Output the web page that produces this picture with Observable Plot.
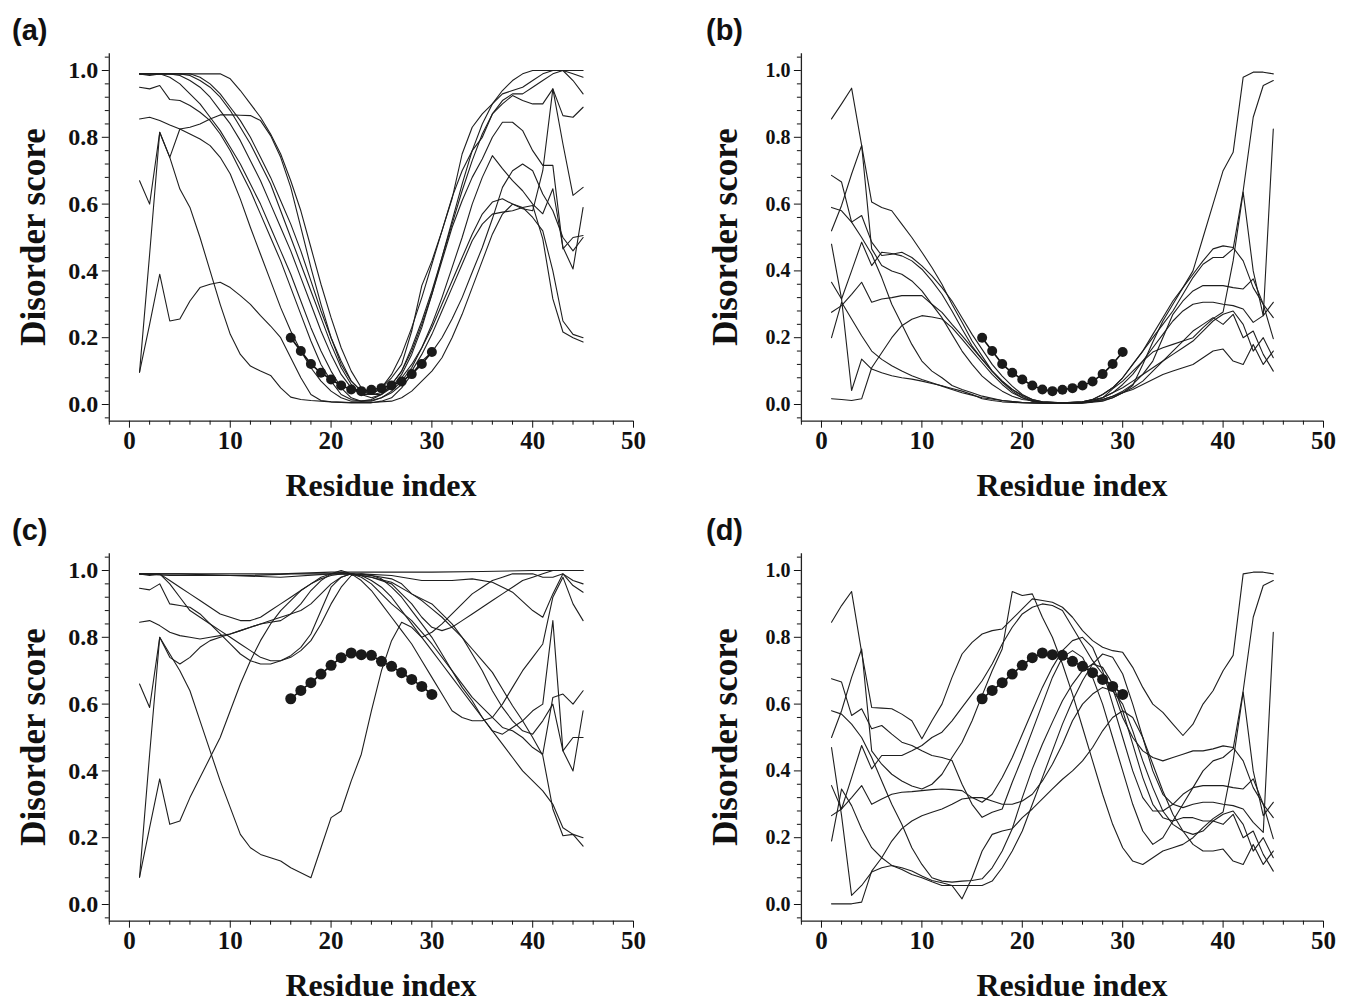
<!DOCTYPE html>
<html><head><meta charset="utf-8">
<script src="https://cdn.jsdelivr.net/npm/d3@7/dist/d3.min.js"></script>
<script src="https://cdn.jsdelivr.net/npm/@observablehq/plot@0.6/dist/plot.umd.min.js"></script>
<style>
body{margin:0;background:#fff;}
#fig{position:relative;width:1355px;height:1003px;overflow:hidden;background:#fff;}
.plabel{position:absolute;font-family:"Liberation Sans",Arial,sans-serif;font-weight:bold;font-size:29px;line-height:1;color:#111;}
.ytitle{position:absolute;font-family:"Liberation Serif","Times New Roman",serif;font-weight:bold;font-size:35px;color:#111;white-space:nowrap;transform:translate(-50%,-50%) rotate(-90deg);line-height:1;}
.xtitle{position:absolute;font-family:"Liberation Serif","Times New Roman",serif;font-weight:bold;font-size:32px;color:#111;white-space:nowrap;transform:translate(-50%,-50%);line-height:1;}
.chart{position:absolute;}
</style></head><body><div id="fig"></div><script>
// ---------------- data ----------------
const insertX = [16,17,18,19,20,21,22,23,24,25,26,27,28,29,30];
const insertOrdered = [.2,.16,.121,.095,.075,.057,.045,.04,.044,.049,.057,.069,.091,.121,.157];
const insertDisordered = [.616,.641,.664,.69,.716,.739,.753,.748,.746,.728,.713,.694,.674,.653,.629];

const xTicks = [0,10,20,30,40,50];
const yTicks = [0,0.2,0.4,0.6,0.8,1.0];

// panel (a)
const a1=[[1,.99],[9,.99],[10,.975],[11,.94],[12,.9],[13,.86],[14,.81],[15,.75],[16,.67],[17,.58],[18,.47],[19,.36],[20,.26],[21,.17],[22,.1],[23,.05],[24,.03],[25,.03],[26,.05],[27,.09],[28,.15],[29,.23],[30,.33],[31,.44],[32,.55],[33,.66],[34,.76],[35,.84],[36,.9],[37,.94],[38,.97],[39,.99],[40,1],[45,1]];
const a2=[[1,.99],[6,.99],[7,.98],[8,.96],[9,.93],[10,.89],[11,.85],[12,.8],[13,.74],[14,.68],[15,.61],[16,.54],[17,.46],[18,.37],[19,.28],[20,.2],[21,.13],[22,.07],[23,.04],[24,.03],[25,.05],[26,.08],[27,.12],[28,.22],[29,.356],[30,.43],[31,.52],[32,.616],[33,.75],[34,.83],[35,.87],[36,.9],[37,.93],[38,.94],[39,.95],[40,.97],[41,.99],[42,1],[43,1],[44,.99],[45,.98]];
const a3=[[1,.99],[4,.99],[5,.985],[6,.97],[7,.95],[8,.92],[9,.88],[10,.84],[11,.79],[12,.73],[13,.67],[14,.6],[15,.53],[16,.46],[17,.38],[18,.3],[19,.22],[20,.15],[21,.09],[22,.05],[23,.03],[24,.03],[25,.05],[26,.09],[27,.15],[28,.23],[29,.32],[30,.42],[31,.52],[32,.62],[33,.7],[34,.76],[35,.8],[36,.87],[37,.9],[38,.925],[39,.91],[40,.9],[41,.9],[42,.945],[43,.865],[44,.86],[45,.89]];
const a4=[[1,.99],[2,.985],[3,.99],[4,.98],[5,.96],[6,.93],[7,.9],[8,.86],[9,.82],[10,.77],[11,.72],[12,.66],[13,.6],[14,.53],[15,.46],[16,.39],[17,.31],[18,.23],[19,.16],[20,.1],[21,.05],[22,.02],[23,.01],[24,.015],[25,.03],[26,.06],[27,.1],[28,.16],[29,.24],[30,.33],[31,.43],[32,.53],[33,.61],[34,.68],[35,.735],[36,.8],[37,.845],[38,.845],[39,.82],[40,.76],[41,.716],[42,.716],[43,.466],[44,.5],[45,.506]];
const a5=[[1,.95],[2,.945],[3,.955],[4,.913],[5,.91],[6,.895],[7,.875],[8,.85],[9,.81],[10,.76],[11,.7],[12,.64],[13,.57],[14,.5],[15,.43],[16,.35],[17,.27],[18,.19],[19,.12],[20,.07],[21,.03],[22,.015],[23,.01],[24,.01],[25,.02],[26,.04],[27,.07],[28,.11],[29,.17],[30,.24],[31,.32],[32,.41],[33,.5],[34,.6],[35,.68],[36,.745],[37,.706],[38,.67],[39,.64],[40,.6],[41,.571],[42,.646],[43,.471],[44,.406],[45,.59]];
const a6=[[1,.67],[2,.6],[3,.815],[4,.74],[5,.825],[6,.83],[7,.84],[8,.855],[9,.867],[10,.867],[11,.866],[12,.865],[13,.85],[14,.805],[15,.74],[16,.65],[17,.53],[18,.41],[19,.3],[20,.2],[21,.12],[22,.07],[23,.04],[24,.03],[25,.035],[26,.05],[27,.08],[28,.12],[29,.17],[30,.23],[31,.3],[32,.37],[33,.44],[34,.51],[35,.57],[36,.606],[37,.616],[38,.6],[39,.586],[40,.58],[41,.7],[42,.945],[43,.78],[44,.626],[45,.65]];
const a7=[[1,.855],[2,.86],[3,.85],[4,.837],[5,.825],[6,.81],[7,.795],[8,.775],[9,.74],[10,.69],[11,.615],[12,.53],[13,.45],[14,.37],[15,.29],[16,.22],[17,.16],[18,.11],[19,.07],[20,.04],[21,.02],[22,.01],[23,.01],[24,.012],[25,.02],[26,.035],[27,.06],[28,.1],[29,.15],[30,.21],[31,.28],[32,.35],[33,.42],[34,.49],[35,.54],[36,.57],[37,.576],[38,.58],[39,.59],[40,.596],[41,.496],[42,.316],[43,.217],[44,.2],[45,.187]];
const a8=[[1,.097],[2,.45],[3,.815],[4,.74],[5,.645],[6,.59],[7,.5],[8,.4],[9,.3],[10,.21],[11,.15],[12,.115],[13,.1],[14,.087],[15,.05],[16,.022],[17,.015],[18,.012],[20,.008],[22,.006],[24,.006],[26,.01],[27,.02],[28,.04],[29,.07],[30,.1],[31,.14],[32,.2],[33,.27],[34,.35],[35,.43],[36,.51],[37,.57],[38,.6],[39,.59],[40,.56],[41,.52],[42,.4],[43,.25],[44,.21],[45,.2]];
const a9=[[1,.097],[2,.24],[3,.39],[4,.25],[5,.256],[6,.31],[7,.35],[8,.36],[9,.366],[10,.35],[11,.326],[12,.3],[13,.266],[14,.235],[15,.2],[16,.14],[17,.08],[18,.03],[19,.012],[20,.008],[22,.005],[24,.005],[25,.01],[26,.02],[27,.05],[28,.09],[29,.13],[30,.157],[31,.2],[32,.256],[33,.32],[34,.396],[35,.47],[36,.556],[37,.65],[38,.7],[39,.72],[40,.7],[41,.63],[42,.58],[43,.5],[44,.46],[45,.5]];
const a10=[[1,.99],[5,.99],[6,.985],[7,.97],[8,.95],[9,.92],[10,.88],[11,.83],[12,.78],[13,.72],[14,.66],[15,.58],[16,.5],[17,.42],[18,.34],[19,.26],[20,.18],[21,.11],[22,.06],[23,.03],[24,.02],[25,.03],[26,.06],[27,.1],[28,.17],[29,.25],[30,.34],[31,.44],[32,.54],[33,.64],[34,.73],[35,.81],[36,.87],[37,.91],[38,.93],[39,.93],[40,.95],[41,.97],[42,.99],[43,1],[44,.97],[45,.93]];

// panel (b)
const b1=[[1,.855],[2,.9],[3,.947],[4,.776],[5,.606],[6,.59],[7,.58],[8,.54],[9,.5],[10,.456],[11,.41],[12,.36],[13,.3],[14,.246],[15,.19],[16,.145],[17,.1],[18,.067],[19,.04],[20,.02],[21,.01],[22,.005],[24,.003],[26,.004],[28,.01],[29,.02],[30,.035],[31,.057],[32,.12],[33,.187],[34,.25],[35,.3],[36,.35],[37,.4],[38,.5],[39,.6],[40,.7],[41,.755],[42,.98],[43,.995],[44,.995],[45,.99]];
const b2=[[1,.686],[2,.666],[3,.546],[4,.566],[5,.486],[6,.446],[7,.45],[8,.456],[9,.44],[10,.415],[11,.385],[12,.35],[13,.31],[14,.26],[15,.21],[16,.165],[17,.12],[18,.085],[19,.055],[20,.03],[21,.015],[22,.008],[24,.005],[26,.008],[27,.015],[28,.03],[29,.05],[30,.08],[31,.12],[32,.16],[33,.2],[34,.24],[35,.28],[36,.33],[37,.38],[38,.42],[39,.44],[40,.44],[41,.466],[42,.64],[43,.86],[44,.955],[45,.97]];
const b3=[[1,.52],[2,.596],[3,.69],[4,.776],[5,.466],[6,.416],[7,.4],[8,.39],[9,.37],[10,.34],[11,.3],[12,.26],[13,.21],[14,.16],[15,.12],[16,.085],[17,.06],[18,.04],[19,.025],[20,.015],[22,.008],[24,.005],[26,.008],[28,.02],[29,.047],[30,.07],[31,.1],[32,.13],[33,.157],[34,.17],[35,.18],[36,.19],[37,.2],[38,.23],[39,.257],[40,.277],[41,.43],[42,.636],[43,.4],[44,.266],[45,.306]];
const b4=[[1,.366],[2,.316],[3,.4],[4,.486],[5,.416],[6,.456],[7,.452],[8,.445],[9,.43],[10,.405],[11,.37],[12,.33],[13,.28],[14,.226],[15,.175],[16,.135],[17,.1],[18,.07],[19,.045],[20,.025],[21,.012],[22,.006],[24,.004],[26,.008],[27,.015],[28,.03],[29,.05],[30,.08],[31,.12],[32,.16],[33,.21],[34,.26],[35,.31],[36,.35],[37,.39],[38,.43],[39,.466],[40,.475],[41,.47],[42,.43],[43,.35],[44,.3],[45,.26]];
const b5=[[1,.276],[2,.296],[3,.33],[4,.366],[5,.306],[6,.316],[7,.32],[8,.326],[9,.326],[10,.326],[11,.3],[12,.276],[13,.24],[14,.206],[15,.17],[16,.135],[17,.1],[18,.07],[19,.045],[20,.028],[21,.015],[22,.008],[24,.004],[26,.006],[28,.015],[29,.025],[30,.04],[31,.06],[32,.09],[33,.13],[34,.2],[35,.27],[36,.31],[37,.34],[38,.356],[39,.356],[40,.356],[41,.35],[42,.346],[43,.376],[44,.3],[45,.197]];
const b6=[[1,.2],[2,.306],[3,.256],[4,.206],[5,.16],[6,.135],[7,.116],[8,.1],[9,.086],[10,.075],[11,.065],[12,.055],[13,.045],[14,.035],[15,.028],[16,.02],[18,.012],[20,.006],[22,.004],[24,.004],[26,.006],[28,.02],[29,.035],[30,.06],[31,.09],[32,.13],[33,.17],[34,.21],[35,.25],[36,.28],[37,.3],[38,.306],[39,.306],[40,.3],[41,.296],[42,.286],[43,.246],[44,.266],[45,.825]];
const b7=[[1,.017],[2,.015],[3,.012],[4,.017],[5,.11],[6,.155],[7,.2],[8,.236],[9,.255],[10,.266],[11,.262],[12,.256],[13,.23],[14,.196],[15,.16],[16,.125],[17,.09],[18,.06],[19,.035],[20,.02],[21,.01],[22,.006],[24,.004],[26,.005],[27,.01],[28,.02],[29,.035],[30,.05],[31,.07],[32,.09],[33,.11],[34,.13],[35,.15],[36,.17],[37,.19],[38,.22],[39,.25],[40,.27],[41,.28],[42,.24],[43,.16],[44,.2],[45,.14]];
const b8=[[1,.48],[2,.316],[3,.042],[4,.136],[5,.106],[6,.095],[7,.086],[8,.08],[9,.076],[10,.07],[11,.063],[12,.056],[13,.048],[14,.04],[15,.03],[16,.017],[17,.012],[18,.008],[20,.005],[22,.004],[24,.004],[26,.005],[27,.008],[28,.015],[29,.025],[30,.035],[31,.045],[32,.06],[33,.075],[34,.09],[35,.1],[36,.11],[37,.12],[38,.14],[39,.16],[40,.166],[41,.13],[42,.12],[43,.18],[44,.12],[45,.16]];
const b9=[[1,.59],[2,.58],[3,.546],[4,.5],[5,.45],[6,.38],[7,.3],[8,.24],[9,.18],[10,.13],[11,.1],[12,.08],[13,.057],[14,.045],[15,.035],[16,.025],[18,.012],[20,.006],[22,.004],[24,.004],[26,.006],[28,.012],[29,.02],[30,.035],[31,.05],[32,.07],[33,.1],[34,.13],[35,.16],[36,.19],[37,.22],[38,.24],[39,.26],[40,.24],[41,.27],[42,.2],[43,.22],[44,.15],[45,.1]];

// panel (c)
const c1=[[1,.99],[5,.99],[10,.99],[15,.99],[20,.995],[25,.995],[30,.995],[35,.997],[40,1],[45,1]];
const c2=[[1,.99],[4,.985],[8,.985],[12,.985],[16,.99],[20,.99],[23,.99],[26,.985],[29,.97],[32,.97],[34,.975],[36,.965],[38,.935],[40,.88],[41,.86],[42,.93],[43,.99],[44,.955],[45,.935]];
const c3=[[1,.99],[3,.99],[4,.97],[5,.95],[6,.93],[7,.91],[8,.89],[9,.87],[10,.86],[11,.85],[12,.85],[13,.86],[14,.88],[15,.9],[16,.92],[17,.94],[18,.96],[19,.975],[20,.985],[21,.99],[22,.99],[24,.985],[26,.975],[27,.96],[28,.93],[29,.91],[30,.885],[31,.86],[32,.83],[33,.8],[34,.765],[35,.73],[36,.695],[37,.645],[38,.595],[39,.55],[40,.5],[41,.446],[42,.286],[43,.206],[44,.21],[45,.175]];
const c4=[[1,.99],[2,.985],[3,.99],[4,.96],[5,.92],[6,.88],[7,.86],[8,.84],[9,.82],[10,.8],[11,.78],[12,.76],[13,.74],[14,.73],[15,.73],[16,.74],[17,.76],[18,.79],[19,.84],[20,.9],[21,.95],[22,.985],[23,.99],[24,.985],[25,.975],[26,.95],[27,.92],[28,.88],[29,.84],[30,.8],[31,.75],[32,.7],[33,.65],[34,.61],[35,.56],[36,.52],[37,.51],[38,.53],[39,.55],[40,.58],[41,.6],[42,.85],[43,.46],[44,.4],[45,.58]];
const c5=[[1,.947],[2,.942],[3,.96],[4,.9],[5,.895],[6,.89],[7,.87],[8,.84],[9,.81],[10,.78],[11,.75],[12,.73],[13,.72],[14,.72],[15,.73],[16,.745],[17,.77],[18,.81],[19,.88],[20,.95],[21,.98],[22,.99],[23,.985],[24,.98],[26,.965],[28,.93],[30,.9],[31,.87],[32,.84],[33,.8],[34,.75],[35,.7],[36,.64],[37,.59],[38,.55],[39,.52],[40,.51],[41,.55],[42,.6],[43,.46],[44,.5],[45,.5]];
const c6=[[1,.845],[2,.85],[3,.835],[4,.815],[5,.805],[6,.8],[7,.795],[8,.8],[9,.805],[10,.81],[11,.82],[12,.83],[13,.84],[14,.85],[15,.86],[16,.87],[17,.88],[18,.9],[19,.93],[20,.96],[21,.98],[22,.99],[23,.985],[24,.97],[25,.95],[26,.92],[27,.88],[28,.84],[29,.8],[30,.76],[31,.72],[32,.68],[33,.64],[34,.6],[35,.56],[36,.52],[37,.48],[38,.44],[39,.4],[40,.37],[41,.34],[42,.3],[43,.23],[44,.21],[45,.2]];
const c7=[[1,.66],[2,.59],[3,.8],[4,.75],[5,.7],[6,.64],[7,.55],[8,.46],[9,.37],[10,.29],[11,.21],[12,.17],[13,.15],[14,.14],[15,.13],[16,.11],[17,.095],[18,.08],[19,.17],[20,.26],[21,.28],[22,.37],[23,.45],[24,.58],[25,.7],[26,.79],[27,.845],[28,.83],[29,.8],[30,.815],[31,.84],[32,.87],[33,.9],[34,.93],[35,.95],[36,.97],[37,.98],[38,.99],[39,.99],[40,.99],[41,.98],[42,.98],[43,.99],[44,.97],[45,.96]];
const c8=[[1,.082],[2,.45],[3,.8],[4,.74],[5,.72],[6,.74],[7,.77],[8,.79],[9,.8],[10,.81],[11,.82],[12,.83],[13,.84],[14,.845],[15,.85],[16,.87],[17,.9],[18,.94],[19,.97],[20,.99],[21,1],[22,.99],[23,.97],[24,.94],[25,.9],[26,.86],[27,.82],[28,.78],[29,.73],[30,.68],[31,.63],[32,.58],[33,.56],[34,.55],[35,.55],[36,.56],[37,.6],[38,.65],[39,.7],[40,.74],[41,.78],[42,.92],[43,.98],[44,.9],[45,.85]];
const c9=[[1,.082],[2,.23],[3,.376],[4,.24],[5,.25],[6,.32],[7,.38],[8,.44],[9,.5],[10,.58],[11,.66],[12,.73],[13,.79],[14,.84],[15,.88],[16,.91],[17,.94],[18,.96],[19,.98],[20,.99],[21,.995],[22,.99],[23,.98],[24,.96],[25,.93],[26,.9],[28,.85],[30,.78],[32,.7],[34,.62],[36,.56],[37,.53],[38,.52],[39,.5],[40,.47],[41,.45],[42,.62],[43,.63],[44,.6],[45,.64]];
const c10=[[1,.99],[5,.99],[10,.985],[15,.98],[20,.99],[22,.99],[24,.98],[26,.96],[28,.9],[29,.86],[30,.83],[31,.82],[32,.83],[33,.85],[34,.87],[35,.89],[36,.91],[37,.93],[38,.95],[39,.97],[40,.98],[41,.99],[42,1],[45,1]];

// panel (d)
const d1=[[1,.845],[2,.895],[3,.937],[4,.755],[5,.59],[6,.588],[7,.586],[8,.57],[9,.55],[10,.496],[11,.55],[12,.6],[13,.68],[14,.75],[15,.785],[16,.81],[17,.82],[18,.825],[19,.855],[20,.885],[21,.915],[22,.91],[23,.905],[24,.89],[25,.86],[26,.82],[27,.79],[28,.77],[29,.76],[30,.755],[31,.71],[32,.65],[33,.6],[34,.575],[35,.54],[36,.506],[37,.54],[38,.6],[39,.64],[40,.7],[41,.746],[42,.99],[43,.995],[44,.995],[45,.99]];
const d2=[[1,.676],[2,.666],[3,.566],[4,.586],[5,.526],[6,.536],[7,.51],[8,.486],[9,.476],[10,.46],[11,.446],[12,.44],[13,.431],[14,.36],[15,.3],[16,.261],[17,.276],[18,.286],[19,.366],[20,.44],[21,.52],[22,.6],[23,.68],[24,.74],[25,.76],[26,.74],[27,.68],[28,.6],[29,.5],[30,.4],[31,.3],[32,.22],[33,.18],[34,.2],[35,.25],[36,.3],[37,.35],[38,.4],[39,.43],[40,.44],[41,.466],[42,.64],[43,.86],[44,.955],[45,.97]];
const d3=[[1,.5],[2,.58],[3,.68],[4,.765],[5,.46],[6,.42],[7,.39],[8,.37],[9,.355],[10,.346],[11,.36],[12,.39],[13,.44],[14,.486],[15,.55],[16,.626],[17,.7],[18,.765],[19,.937],[20,.925],[21,.93],[22,.86],[23,.8],[24,.72],[25,.63],[26,.53],[27,.43],[28,.33],[29,.24],[30,.17],[31,.13],[32,.12],[33,.14],[34,.16],[35,.17],[36,.18],[37,.2],[38,.23],[39,.257],[40,.277],[41,.43],[42,.636],[43,.4],[44,.266],[45,.306]];
const d4=[[1,.356],[2,.286],[3,.38],[4,.476],[5,.406],[6,.446],[7,.446],[8,.446],[9,.46],[10,.476],[11,.5],[12,.516],[13,.55],[14,.59],[15,.63],[16,.67],[17,.72],[18,.78],[19,.83],[20,.87],[21,.89],[22,.9],[23,.895],[24,.88],[25,.83],[26,.78],[27,.73],[28,.69],[29,.646],[30,.56],[31,.5],[32,.46],[33,.44],[34,.43],[35,.44],[36,.45],[37,.46],[38,.46],[39,.466],[40,.475],[41,.47],[42,.43],[43,.35],[44,.3],[45,.26]];
const d5=[[1,.266],[2,.286],[3,.32],[4,.356],[5,.3],[6,.316],[7,.33],[8,.336],[9,.338],[10,.341],[11,.344],[12,.346],[13,.344],[14,.341],[15,.32],[16,.306],[17,.33],[18,.38],[19,.44],[20,.51],[21,.58],[22,.65],[23,.71],[24,.76],[25,.79],[26,.8],[27,.77],[28,.7],[29,.6],[30,.5],[31,.4],[32,.32],[33,.28],[34,.28],[35,.3],[36,.33],[37,.35],[38,.356],[39,.356],[40,.356],[41,.35],[42,.346],[43,.376],[44,.3],[45,.197]];
const d6=[[1,.19],[2,.346],[3,.296],[4,.226],[5,.17],[6,.14],[7,.117],[8,.105],[9,.09],[10,.08],[11,.068],[12,.057],[13,.057],[14,.057],[15,.057],[16,.057],[17,.07],[18,.11],[19,.16],[20,.22],[21,.3],[22,.38],[23,.46],[24,.54],[25,.61],[26,.67],[27,.72],[28,.75],[29,.74],[30,.69],[31,.6],[32,.5],[33,.4],[34,.33],[35,.3],[36,.29],[37,.3],[38,.306],[39,.306],[40,.3],[41,.296],[42,.286],[43,.246],[44,.216],[45,.815]];
const d7=[[1,.002],[2,.002],[3,.002],[4,.007],[5,.1],[6,.14],[7,.19],[8,.227],[9,.25],[10,.266],[11,.276],[12,.286],[13,.3],[14,.316],[15,.32],[16,.32],[17,.31],[18,.3],[19,.3],[20,.31],[21,.33],[22,.37],[23,.42],[24,.48],[25,.55],[26,.6],[27,.63],[28,.65],[29,.64],[30,.6],[31,.52],[32,.43],[33,.35],[34,.28],[35,.24],[36,.22],[37,.21],[38,.22],[39,.25],[40,.27],[41,.28],[42,.24],[43,.16],[44,.2],[45,.14]];
const d8=[[1,.47],[2,.266],[3,.027],[4,.057],[5,.097],[6,.11],[7,.117],[8,.11],[9,.1],[10,.085],[11,.072],[12,.065],[13,.057],[14,.017],[15,.08],[16,.16],[17,.21],[18,.22],[19,.227],[20,.26],[21,.286],[22,.316],[23,.346],[24,.375],[25,.4],[26,.43],[27,.47],[28,.52],[29,.56],[30,.58],[31,.56],[32,.5],[33,.42],[34,.34],[35,.27],[36,.22],[37,.18],[38,.16],[39,.16],[40,.166],[41,.13],[42,.12],[43,.18],[44,.12],[45,.16]];
const d9=[[1,.58],[2,.57],[3,.54],[4,.5],[5,.44],[6,.37],[7,.3],[8,.24],[9,.17],[10,.12],[11,.08],[12,.07],[13,.067],[14,.07],[15,.072],[16,.077],[17,.11],[18,.16],[19,.227],[20,.32],[21,.406],[22,.48],[23,.546],[24,.61],[25,.66],[26,.7],[27,.72],[28,.71],[29,.66],[30,.58],[31,.48],[32,.38],[33,.3],[34,.26],[35,.25],[36,.26],[37,.26],[38,.25],[39,.25],[40,.24],[41,.27],[42,.2],[43,.22],[44,.15],[45,.1]];

const panelA=[a1,a2,a3,a4,a5,a6,a7,a8,a9,a10];
const panelB=[b1,b2,b3,b4,b5,b6,b7,b8,b9];
const panelC=[c1,c2,c3,c4,c5,c6,c7,c8,c9,c10];
const panelD=[d1,d2,d3,d4,d5,d6,d7,d8,d9];

// ---------------- drawing ----------------
const fig = document.getElementById("fig");
const seq = (a, b) => Array.from({length: b - a + 1}, (_, i) => a + i);
const xMinor = seq(-1, 25).map(i => i * 2).filter(d => d % 10 !== 0);
const yMinor = seq(-1, 26).filter(i => i % 5 !== 0).map(i => +(i * 0.04).toFixed(2));
const fmt1 = d => d.toFixed(1);

function makePanel(lines, insertY, opt) {
  const lineData = lines.flatMap((pts, k) => pts.map(([x, y]) => ({x, y, k})));
  const dotData = insertX.map((x, i) => ({x, y: insertY[i]}));
  const chart = Plot.plot({
    width: 620, height: 430,
    marginLeft: opt.ml, marginRight: opt.mr, marginTop: 13.3, marginBottom: 49.3,
    x: {domain: [-2, 50]},
    y: {domain: [-0.05, 1.05]},
    style: {fontFamily: "'Liberation Serif','Times New Roman',serif", fontWeight: "bold", fontSize: "25px", color: "#111", background: "transparent", overflow: "visible"},
    marks: [
      Plot.line(lineData, {x: "x", y: "y", z: "k", stroke: "#1e1e1e", strokeWidth: 1.1}),
      Plot.line(dotData, {x: "x", y: "y", stroke: "#111", strokeWidth: 1.6}),
      Plot.dot(dotData, {x: "x", y: "y", r: opt.r, fill: "#1a1a1a", stroke: "none"}),
      Plot.ruleY([-0.05], {stroke: "#222", strokeWidth: 1.3}),
      Plot.ruleX([-2], {stroke: "#222", strokeWidth: 1.3}),
      Plot.axisX({ticks: xTicks, tickSize: 7, tickPadding: 3, tickFormat: d => String(d), label: null, fontSize: 25}),
      Plot.axisX({ticks: xMinor, tickSize: 4, tickFormat: () => "", label: null}),
      Plot.axisY({ticks: yTicks, tickSize: 7, tickPadding: 4, tickFormat: fmt1, label: null, fontSize: opt.yfont}),
      Plot.axisY({ticks: yMinor, tickSize: 4, tickFormat: () => "", label: null})
    ]
  });
  chart.classList.add("chart");
  chart.style.position = "absolute";
  chart.style.left = opt.left + "px";
  chart.style.top = opt.top + "px";
  fig.appendChild(chart);
}

function addText(cls, txt, left, top) {
  const el = document.createElement("div");
  el.className = cls; el.textContent = txt;
  el.style.left = left + "px"; el.style.top = top + "px";
  fig.appendChild(el);
}

makePanel(panelA, insertOrdered, {left: 40, top: 40, ml: 68.8, mr: 27, yfont: 24, r: 5});
makePanel(panelB, insertOrdered, {left: 732, top: 40, ml: 68.9, mr: 29, yfont: 20, r: 5});
makePanel(panelC, insertDisordered, {left: 40, top: 540, ml: 68.8, mr: 27, yfont: 24, r: 5.5});
makePanel(panelD, insertDisordered, {left: 732, top: 540, ml: 68.9, mr: 29, yfont: 20, r: 5.5});

addText("plabel", "(a)", 12, 16);
addText("plabel", "(b)", 706, 16);
addText("plabel", "(c)", 12, 516);
addText("plabel", "(d)", 706, 516);
addText("ytitle", "Disorder score", 33, 237);
addText("ytitle", "Disorder score", 725, 237);
addText("ytitle", "Disorder score", 33, 737);
addText("ytitle", "Disorder score", 725, 737);
addText("xtitle", "Residue index", 381, 485);
addText("xtitle", "Residue index", 1072, 485);
addText("xtitle", "Residue index", 381, 985);
addText("xtitle", "Residue index", 1072, 985);
</script></body></html>
